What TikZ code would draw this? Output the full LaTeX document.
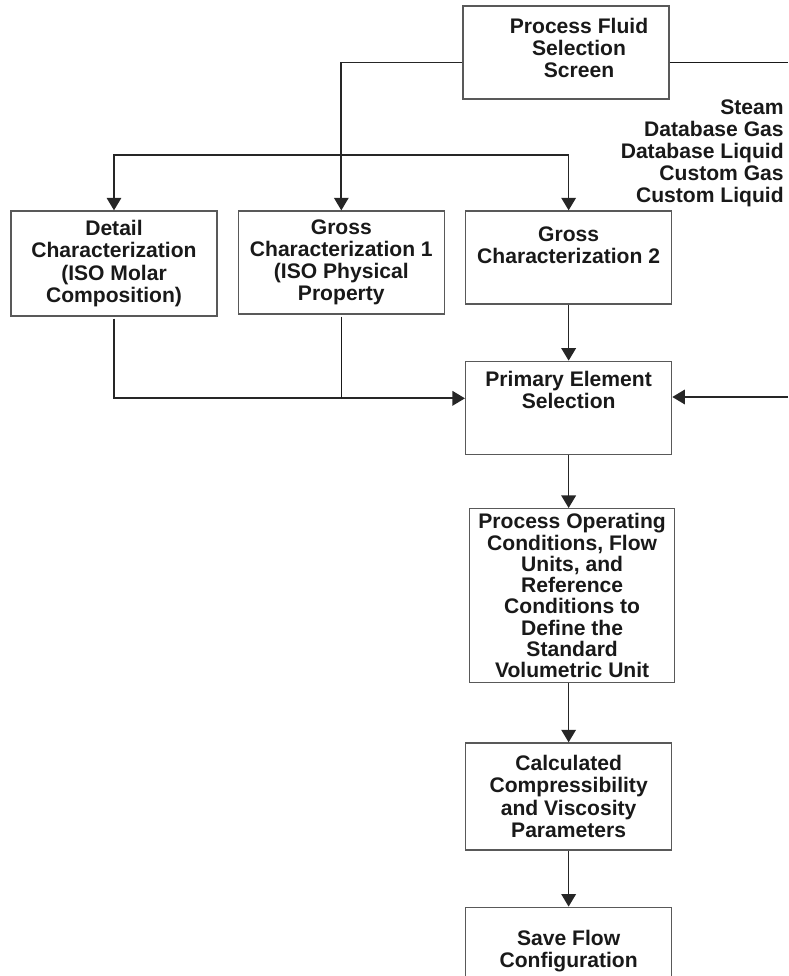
\documentclass[tikz,border=0pt]{standalone}
\usepackage{fontspec}
\setmainfont{Liberation Sans}
\usetikzlibrary{arrows.meta,positioning}

\begin{document}
\begin{tikzpicture}[>={Triangle[length=0.25cm,width=0.29cm]},
  txt/.style={align=center,inner sep=0pt,text=black!90,
    font=\fontsize{12}{12.6}\selectfont\bfseries},
  box/.style={txt,draw=black!65,line width=0.75pt,minimum width=4.12cm},
  flow/.style={->,line width=0.95pt,draw=black!85},
  tap/.style={line width=0.7pt,draw=black!90}]
\useasboundingbox (0,0) rectangle (15.76,-19.52);

% fluid selection and the list of fluid types
\node[box,minimum height=1.86cm] (fluid) at (11.32,-1.05) {};
\node[txt,xshift=0.26cm,yshift=0.09cm] at (fluid.center) {Process Fluid\\Selection\\Screen};
\node[txt,align=right,anchor=north east] (types) at (15.68,-1.98)
  {Steam\\Database Gas\\Database Liquid\\Custom Gas\\Custom Liquid};

% characterization row
\node[box,minimum height=2.1cm] (detail) at (2.28,-5.27)
  {Detail\\Characterization\\(ISO Molar\\Composition)};
\node[box,minimum height=2.06cm,right=0.4cm of detail.north east,anchor=north west] (gross1)
  {Gross\\Characterization 1\\(ISO Physical\\Property};
\node[box,minimum height=1.86cm,right=0.4cm of gross1.north east,anchor=north west] (gross2) {};
\node[txt,yshift=0.24cm] at (gross2.center) {Gross\\Characterization 2};

% main column
\node[box,minimum height=1.86cm,below=1.12cm of gross2] (prim) {};
\node[txt,yshift=0.35cm] at (prim.center) {Primary Element\\Selection};
\node[box,minimum width=4.1cm,minimum height=3.48cm,below=1.06cm of prim,xshift=0.07cm,
  font=\fontsize{12}{12.1}\selectfont\bfseries] (proc)
  {Process Operating\\Conditions, Flow\\Units, and\\Reference\\Conditions to\\Define the\\Standard\\Volumetric Unit};
\node[box,minimum height=2.14cm,below=1.18cm of proc,xshift=-0.07cm] (calc)
  {Calculated\\Compressibility\\and Viscosity\\Parameters};
\node[box,minimum height=1.76cm,below=1.12cm of calc] (save) {Save Flow\\Configuration};

\coordinate (split) at (gross1.north |- 0,-3.1);
\coordinate (join) at ([yshift=0.19cm]prim.west);
\coordinate (rout) at (15.76,-1.25);
\coordinate (rin) at (15.76,-7.94);

\draw[flow] ([yshift=-0.2cm]fluid.west) -| (gross1.north);
\draw[tap] ([yshift=-0.2cm]fluid.east) -- (rout);
\draw[flow] (split) -| (detail.north);
\draw[flow] (split) -| (gross2.north);
\draw[flow] ([yshift=-0.04cm]detail.south) |- (join);
\draw[tap] ([yshift=-0.04cm]gross1.south) -- (gross1.south |- join);
\draw[flow] (rin) -- (prim.east |- rin);
\draw[flow] (gross2) -- (prim);
\draw[flow] (prim.south) -- (prim.south |- proc.north);
\draw[flow] (calc.north |- proc.south) -- (calc.north);
\draw[flow] (calc) -- (save);
\end{tikzpicture}
\end{document}
